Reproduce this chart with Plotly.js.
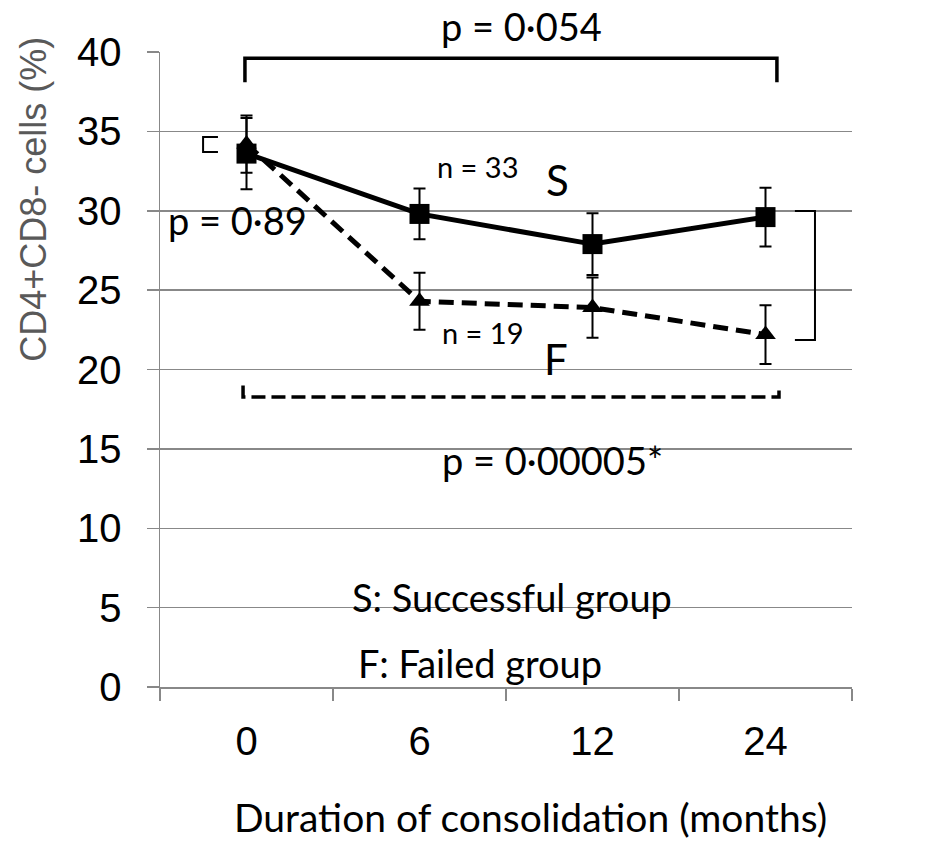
<!DOCTYPE html>
<html>
<head>
<meta charset="utf-8">
<script src="https://cdn.plot.ly/plotly-3.0.1.min.js"></script>
<style>html,body{margin:0;padding:0;background:#fff;}#chart{width:951px;height:843px;}</style>
</head>
<body>
<div id="chart"></div>
<script>
// Data
const categories = ["0", "6", "12", "24"];
const successMean = [33.6, 29.8, 27.9, 29.6];
const successErr = [2.25, 1.6, 1.95, 1.85];
const failedMean = [34.2, 24.3, 23.9, 22.2];
const failedErr = [1.8, 1.8, 1.9, 1.85];
const yTicks = [0, 5, 10, 15, 20, 25, 30, 35, 40];

const labelFont = "Lato, 'Open Sans', sans-serif";
const arialFont = "'Liberation Sans', Arial, sans-serif";

const failed = {
  x: categories, y: failedMean, type: "scatter", mode: "lines+markers", name: "F",
  line: {color: "#000", width: 5, dash: "15px,8px"},
  marker: {symbol: "triangle-up", size: 18, color: "#000"},
  error_y: {type: "data", array: failedErr, visible: true, color: "#000", thickness: 2, width: 6},
  cliponaxis: false
};
const success = {
  x: categories, y: successMean, type: "scatter", mode: "lines+markers", name: "S",
  line: {color: "#000", width: 5},
  marker: {symbol: "square", size: 20, color: "#000"},
  error_y: {type: "data", array: successErr, visible: true, color: "#000", thickness: 2, width: 6},
  cliponaxis: false
};

function txt(x, y, text, size, yref) {
  return {x: x, y: y, xref: "x", yref: yref || "y", text: text, showarrow: false,
    xanchor: "center", yanchor: "middle",
    font: {family: labelFont, size: size, color: "#000"}};
}

const layout = {
  width: 951, height: 843,
  margin: {l: 160, r: 99, t: 52, b: 156},
  paper_bgcolor: "#fff", plot_bgcolor: "#fff",
  showlegend: false,
  font: {family: arialFont, color: "#000"},
  xaxis: {
    type: "category", categoryorder: "array", categoryarray: categories,
    range: [-0.5, 3.5], tickson: "boundaries",
    ticks: "outside", ticklen: 12, tickwidth: 1.5, tickcolor: "#888",
    showline: true, linecolor: "#888", linewidth: 1.5,
    showgrid: false, zeroline: false, ticklabelstandoff: 18,
    tickfont: {family: arialFont, size: 40, color: "#000"}
  },
  yaxis: {
    range: [0, 40], tickvals: yTicks, ticktext: yTicks.map(String),
    ticks: "outside", ticklen: 12, tickwidth: 1.5, tickcolor: "#888",
    showline: true, linecolor: "#888", linewidth: 1.5,
    showgrid: true, gridcolor: "#888", gridwidth: 1.5, zeroline: false,
    ticklabelstandoff: 17,
    tickfont: {family: arialFont, size: 40, color: "#000"}
  },
  shapes: [
    {type: "path", xref: "x", yref: "y", layer: "above",
     path: "M -0.009,38.1 L -0.009,39.6 L 3.066,39.6 L 3.066,38.1",
     line: {color: "#000", width: 3.5}},
    {type: "path", xref: "x", yref: "y", layer: "above",
     path: "M -0.02,19.0 L -0.02,18.27 L 3.078,18.27 L 3.078,19.0",
     line: {color: "#000", width: 3.5, dash: "14px,6px"}},
    {type: "path", xref: "x", yref: "y", layer: "above",
     path: "M 3.17,29.98 L 3.286,29.98 L 3.286,21.86 L 3.17,21.86",
     line: {color: "#000", width: 2}},
    {type: "path", xref: "x", yref: "y", layer: "above",
     path: "M -0.165,34.65 L -0.251,34.65 L -0.251,33.7 L -0.165,33.7",
     line: {color: "#000", width: 2}}
  ],
  annotations: [
    txt(1.587, 1.041, "p = 0·054", 38, "paper"),
    txt(-0.052, 29.43, "p = 0·89", 38),
    txt(1.338, 32.76, "n = 33", 29),
    txt(1.367, 22.36, "n = 19", 29),
    txt(1.795, 31.95, "S", 42),
    txt(1.789, 20.66, "F", 42),
    txt(3.523, 32.63, "p = 0·018*", 38),
    txt(1.766, 14.29, "p = 0·00005*", 38),
    txt(1.535, 5.66, "S: Successful group", 38),
    txt(1.35, 1.49, "F: Failed group", 38),
    txt(1.64, -0.205, "Duration of consolidation (months)", 39, "paper"),
    {x: -0.182, y: 30.7, xref: "paper", yref: "y", text: "CD4+CD8- cells (%)",
     textangle: -90, showarrow: false, xanchor: "center", yanchor: "middle",
     font: {family: arialFont, size: 36, color: "#595959"}}
  ]
};

Plotly.newPlot("chart", [failed, success], layout, {displayModeBar: false, staticPlot: true});
</script>
</body>
</html>
